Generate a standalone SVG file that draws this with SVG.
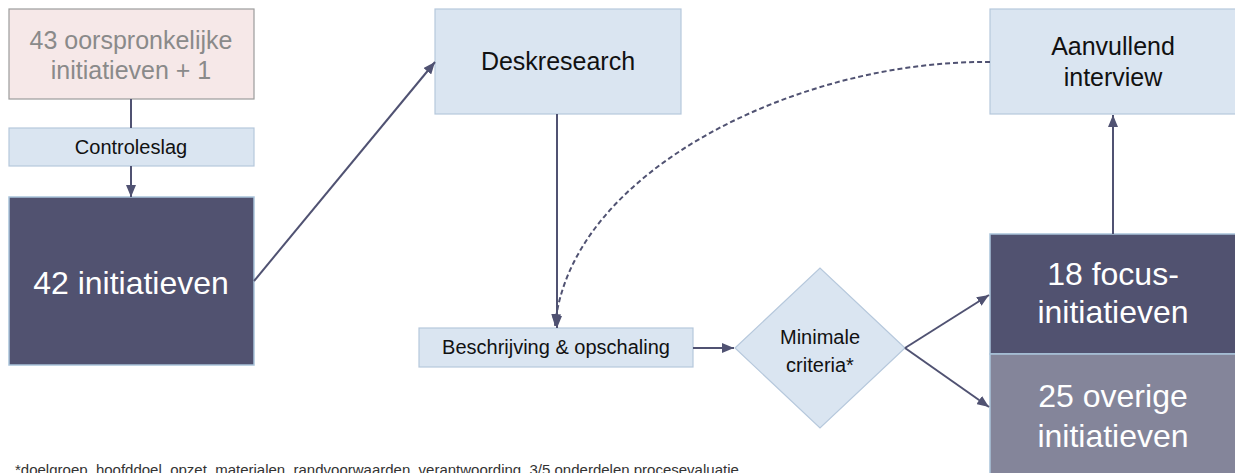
<svg xmlns="http://www.w3.org/2000/svg" width="1235" height="473" viewBox="0 0 1235 473">
<defs>
<marker id="ah" viewBox="0 0 12 10" refX="12" refY="5" markerWidth="12" markerHeight="10" markerUnits="userSpaceOnUse" orient="auto">
<path d="M0,0 L12,5 L0,10 Z" fill="#505272"/>
</marker>
</defs>
<style>
text{font-family:"Liberation Sans",Arial,sans-serif;text-anchor:middle}
.light{fill:#dae5f1;stroke:#b6c8dc;stroke-width:1.2}
.dark{fill:#515270;stroke:#a9c3da;stroke-width:1.5}
.grey{fill:#84859a;stroke:#a9c3da;stroke-width:1.5}
.c{stroke:#505272;stroke-width:2;fill:none}
.ca{stroke:#505272;stroke-width:2;fill:none;marker-end:url(#ah)}
.bk{fill:#111}
.wt{fill:#fff}
</style>
<g id="n-oorspronkelijk">
<rect x="9" y="9" width="245" height="90" fill="#f6e8e8" stroke="#9c9c9c" stroke-width="1.2"/>
<text x="131" y="49" font-size="25" fill="#8a8a8a">43 oorspronkelijke</text>
<text x="131" y="79" font-size="25" fill="#8a8a8a">initiatieven + 1</text>
</g>
<g id="n-controleslag">
<rect class="light" x="9" y="128" width="245" height="38"/>
<text class="bk" x="131" y="154" font-size="20">Controleslag</text>
</g>
<g id="n-42">
<rect class="dark" x="9" y="197" width="245" height="168"/>
<text class="wt" x="131" y="294" font-size="32">42 initiatieven</text>
</g>
<g id="n-deskresearch">
<rect class="light" x="435" y="9" width="246" height="105"/>
<text class="bk" x="558" y="70" font-size="25">Deskresearch</text>
</g>
<g id="n-beschrijving">
<rect class="light" x="419" y="328" width="274" height="39"/>
<text class="bk" x="556" y="354" font-size="20">Beschrijving &amp; opschaling</text>
</g>
<g id="n-criteria">
<polygon class="light" points="735,348 820,268 905,348 820,428"/>
<text class="bk" x="820" y="344" font-size="20">Minimale</text>
<text class="bk" x="820" y="372" font-size="20">criteria*</text>
</g>
<g id="n-aanvullend">
<rect class="light" x="990" y="9" width="250" height="105"/>
<text class="bk" x="1113" y="55" font-size="25">Aanvullend</text>
<text class="bk" x="1113" y="86" font-size="25">interview</text>
</g>
<g id="n-focus">
<rect class="dark" x="990" y="234" width="250" height="120"/>
<text class="wt" x="1113" y="285" font-size="32">18 focus-</text>
<text class="wt" x="1113" y="323" font-size="32">initiatieven</text>
</g>
<g id="n-overige">
<rect class="grey" x="990" y="354" width="250" height="125"/>
<text class="wt" x="1113" y="407" font-size="32">25 overige</text>
<text class="wt" x="1113" y="447" font-size="32">initiatieven</text>
</g>
<g id="connectors">
<line class="c" x1="131" y1="99" x2="131" y2="128"/>
<line class="ca" x1="131" y1="166" x2="131" y2="197"/>
<line class="ca" x1="254" y1="281" x2="435" y2="62"/>
<line class="ca" x1="557" y1="114" x2="557" y2="328"/>
<path class="ca" stroke-dasharray="5 3" d="M990,62 C800,60 570,170 555,326"/>
<line class="ca" x1="693" y1="348" x2="734" y2="348"/>
<line class="ca" x1="905" y1="348" x2="989" y2="295"/>
<line class="ca" x1="905" y1="348" x2="989" y2="407"/>
<line class="ca" x1="1113" y1="234" x2="1113" y2="115"/>
</g>
<text x="15" y="475" font-size="15" fill="#333" style="text-anchor:start">*doelgroep, hoofddoel, opzet, materialen, randvoorwaarden, verantwoording, 3/5 onderdelen procesevaluatie</text>
</svg>
